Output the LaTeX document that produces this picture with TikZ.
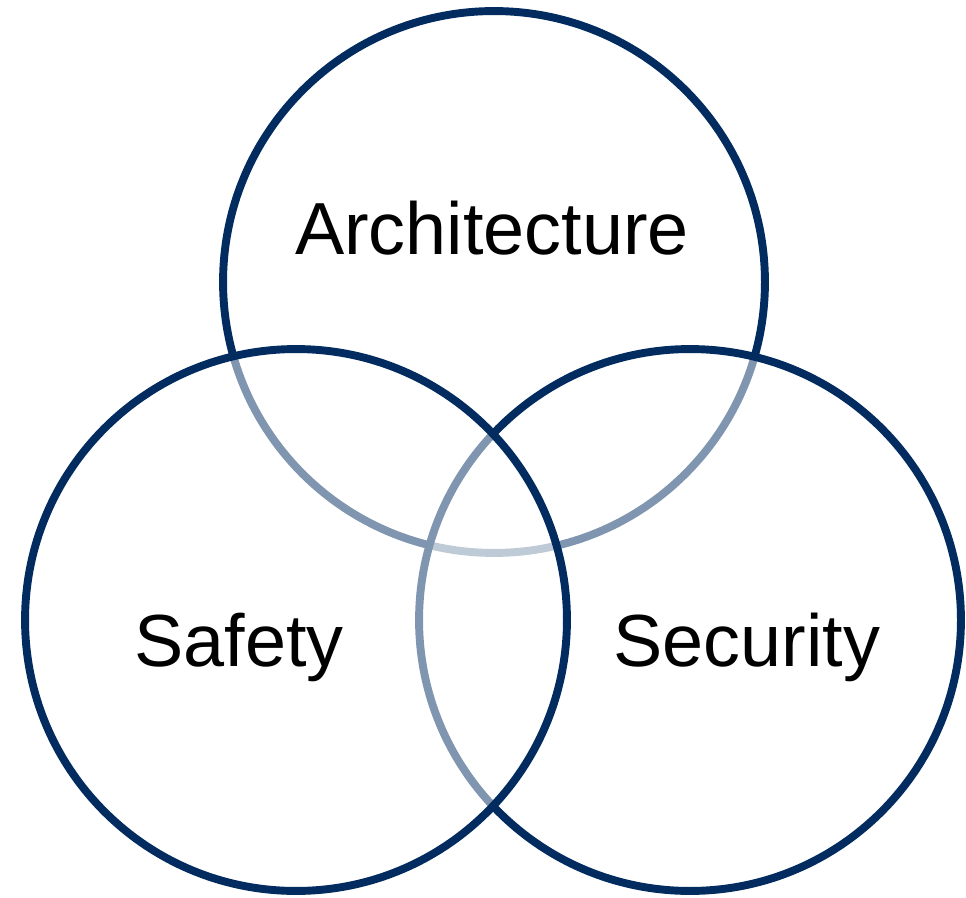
\documentclass[tikz,border=0pt]{standalone}
\usepackage{fontspec}
\setmainfont{Liberation Sans}
\usepackage{xcolor}
\usetikzlibrary{positioning}

\definecolor{navy}{RGB}{2,44,95}

\begin{document}
\begin{tikzpicture}[
  x=0.02cm, y=-0.02cm,
  every node/.style={align=center},
  ring/.style={circle, draw=navy, line width=4.5pt, fill=white, fill opacity=0.5, minimum size=10.84cm, inner sep=0pt},
  lbl/.style={font=\fontsize{42}{50}\selectfont, anchor=base, text=black}
]
\useasboundingbox (0,0) rectangle (966,898);

% circles, later ones wash out the arcs beneath them
\node[ring] (arch) at (494,282) {};
\node[ring] (sec) at (690,620) {};
\node[ring] (saf) at (296,620) {};

\node[lbl] (archtxt) at (492,255) {Architecture};
\node[lbl] (saftxt) at (239,666) {Safety};
\node[lbl] (sectxt) at (747,666) {Security};
\end{tikzpicture}
\end{document}
